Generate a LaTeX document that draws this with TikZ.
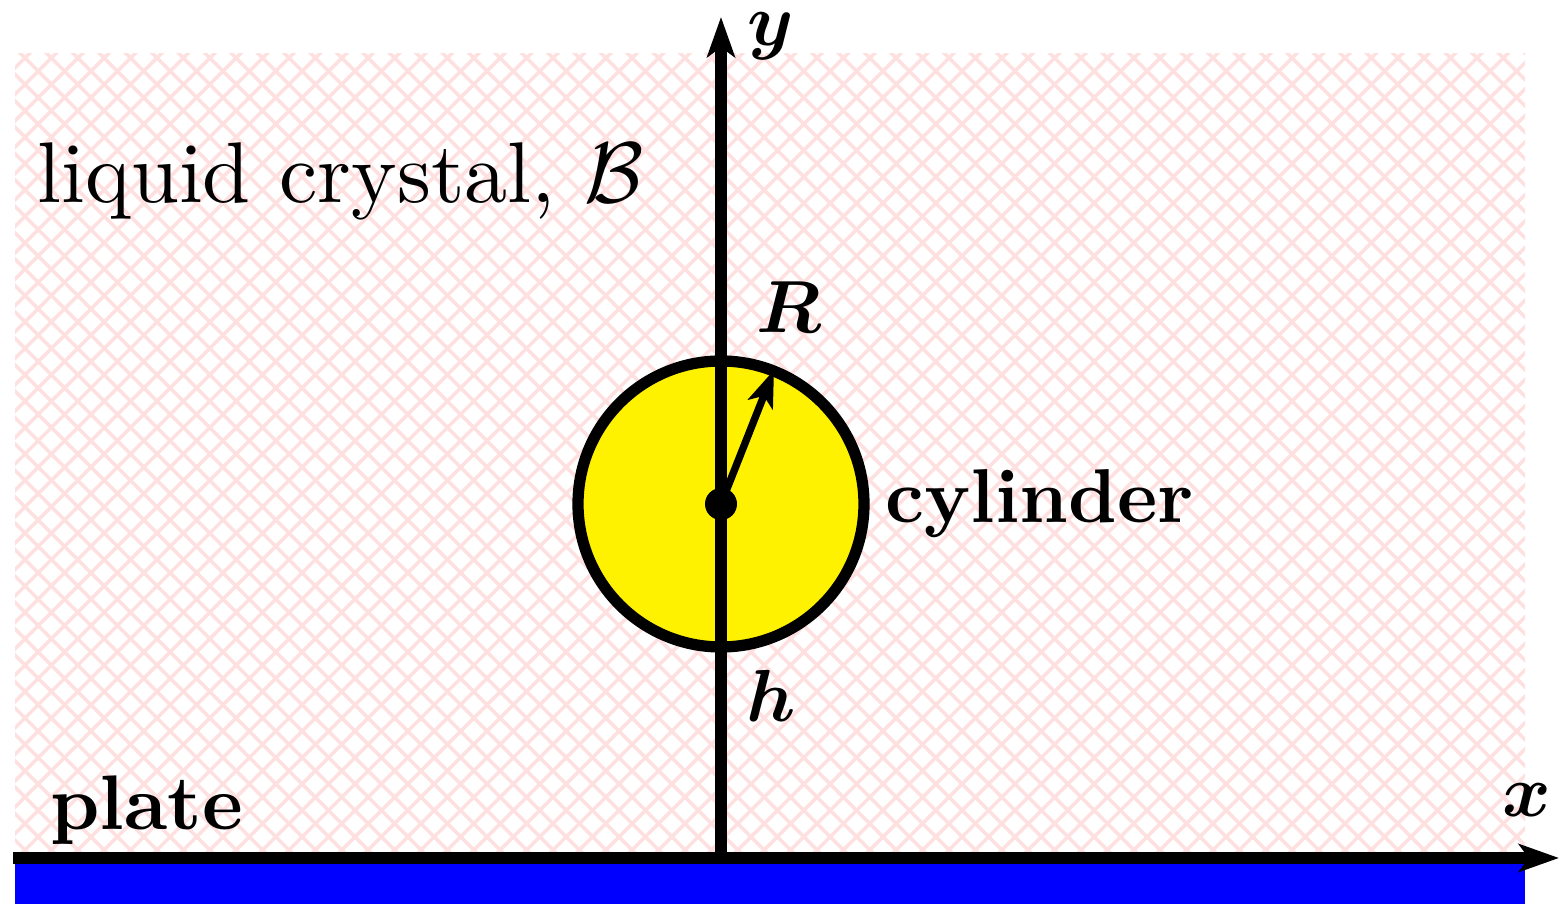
\documentclass[tikz,border=0pt]{standalone}
\usepackage{bm}
\usetikzlibrary{arrows.meta}
\definecolor{hatchpink}{RGB}{255,224,224}
\tikzset{
  axis/.style={line width=3.2pt, -{Stealth[length=11.4pt,width=7.9pt,inset=2.8pt]}},
  radiusarrow/.style={line width=2.1pt, -{Stealth[length=10.5pt,width=7.5pt,inset=2.6pt]}},
  hatchline/.style={hatchpink, line width=1pt},
  mathlabel/.style={inner sep=0pt, anchor=base, scale=2.1},
  bigtext/.style={inner sep=0pt, anchor=base west},
}
\begin{document}
\begin{tikzpicture}[x=0.01cm,y=-0.01cm]
\useasboundingbox (0,0) rectangle (1568,904);
% hatched liquid crystal region
\begin{scope}
  \clip (15,54) rectangle (1525,858);
  \foreach \k in {-40,...,100} {
    \pgfmathsetmacro{\xx}{25+\k*26.4}
    \draw[hatchline] (\xx-900,58-900) -- (\xx+900,58+900);
    \draw[hatchline] (\xx+900,58-900) -- (\xx-900,58+900);
  }
\end{scope}
% plate
\fill[blue] (15,863) rectangle (1525,904);
% key points
\coordinate (O) at (721,858);
\coordinate (Xstart) at (13,858);
\coordinate (Xtip) at (1559,858);
\coordinate (Ytip) at (721,17);
\coordinate (C) at (721,504);
\coordinate (Rtip) at (774,370);
% cylinder
\draw[line width=3.2pt, fill=yellow] (C) circle[radius=143];
% axes
\draw[axis] (Xstart) -- (Xtip);
\draw[axis] (O) -- (Ytip);
% centre and radius
\fill (C) circle[radius=16];
\draw[radiusarrow] (C) -- (Rtip);
% labels
\node[mathlabel] (ylab) at (771,46) {$\bm{y}$};
\node[mathlabel] (xlab) at (1527,817) {$\bm{x}$};
\node[mathlabel] (Rlab) at (789,333) {$\bm{R}$};
\node[mathlabel] (hlab) at (771,722) {$\bm{h}$};
\node[bigtext, scale=2.45] (lc) at (36,203) {liquid crystal, $\mathcal{B}$};
\node[bigtext, scale=2.2, font=\bfseries] (plate) at (49,830) {plate};
\node[bigtext, scale=2.17, font=\bfseries] (cyl) at (884,523) {cylinder};
\end{tikzpicture}
\end{document}
